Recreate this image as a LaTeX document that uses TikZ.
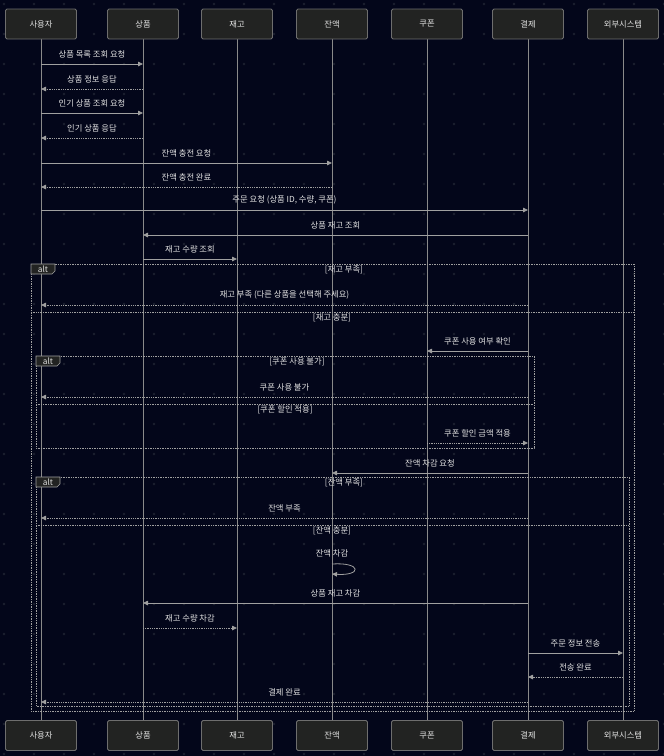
\documentclass[tikz,border=0pt]{standalone}
\usepackage{fontspec}
\setmainfont{Noto Sans CJK KR}
\usetikzlibrary{calc}
\usetikzlibrary{positioning}
\usetikzlibrary{arrows.meta}

\definecolor{bgcol}{HTML}{03061A}
\definecolor{dotcol}{HTML}{1C2030}
\definecolor{boxfill}{HTML}{222322}
\definecolor{boxline}{HTML}{6E6E6E}
\definecolor{txtcol}{HTML}{E2E2E2}
\definecolor{linecol}{HTML}{A0A0A0}
\definecolor{lifecol}{HTML}{8A8A8A}

\begin{document}
\begin{tikzpicture}[x=1pt, y=-1pt, font=\fontsize{8.3}{10}\selectfont, text=txtcol]
    \tikzstyle{actor}=[draw=boxline, fill=boxfill, rounded corners=1.5pt, line width=0.8pt,
      minimum width=71pt, minimum height=30pt, inner sep=0pt]
    \tikzstyle{life}=[draw=lifecol, line width=0.9pt]
    \tikzstyle{msg}=[draw=linecol, line width=0.8pt, -{Triangle[length=5pt, width=4.5pt]}]
    \tikzstyle{reply}=[msg, densely dotted]
    \tikzstyle{lbl}=[above=4.5pt, inner sep=1pt]
    \tikzstyle{frame}=[draw=linecol, line width=0.7pt, densely dotted]
    \tikzstyle{cond}=[inner sep=1pt]
    \tikzstyle{tag}=[draw=linecol, fill=boxfill, line width=0.6pt]

    % Background with dot grid
    \fill[bgcol] (0,0) rectangle (664,756);
    \useasboundingbox (0,0) rectangle (664,756);
    \foreach \i in {0,...,22} {
      \foreach \j in {0,...,25} {
        \fill[dotcol] (4+30*\i, 4+30*\j) circle (1.4pt);
      }
    }

    % Lifelines (drawn first, boxes on top)
    \foreach \x in {41, 143, 237, 332, 427, 528, 623} {
      \draw[life] (\x,39) -- (\x,720);
    }

    % Participants, top
    \node[actor] (user) at (41,24) {사용자};
    \node[actor] (prod) at (143,24) {상품};
    \node[actor] (stock) at (237,24) {재고};
    \node[actor] (bal) at (332,24) {잔액};
    \node[actor] (coup) at (427,24) {쿠폰};
    \node[actor] (pay) at (528,24) {결제};
    \node[actor] (ext) at (623,24) {외부시스템};

    % Participants, bottom
    \node[actor] (user2) at (41,735.5) {사용자};
    \node[actor] (prod2) at (143,735.5) {상품};
    \node[actor] (stock2) at (237,735.5) {재고};
    \node[actor] (bal2) at (332,735.5) {잔액};
    \node[actor] (coup2) at (427,735.5) {쿠폰};
    \node[actor] (pay2) at (528,735.5) {결제};
    \node[actor] (ext2) at (623,735.5) {외부시스템};

    % Browsing and charging
    \draw[msg] (user |- 0,64) -- node[lbl] {상품 목록 조회 요청} (prod |- 0,64);
    \draw[reply] (prod |- 0,89) -- node[lbl] {상품 정보 응답} (user |- 0,89);
    \draw[msg] (user |- 0,113) -- node[lbl] {인기 상품 조회 요청} (prod |- 0,113);
    \draw[reply] (prod |- 0,138) -- node[lbl] {인기 상품 응답} (user |- 0,138);
    \draw[msg] (user |- 0,163) -- node[lbl] {잔액 충전 요청} (bal |- 0,163);
    \draw[reply] (bal |- 0,187) -- node[lbl] {잔액 충전 완료} (user |- 0,187);

    % Order
    \draw[msg] (user |- 0,210) -- node[lbl] {주문 요청 (상품 ID, 수량, 쿠폰)} (pay |- 0,210);
    \draw[msg] (pay |- 0,235) -- node[lbl] {상품 재고 조회} (prod |- 0,235);
    \draw[msg] (prod |- 0,259) -- node[lbl] {재고 수량 조회} (stock |- 0,259);

    % alt: stock
    \draw[frame] (31,264) rectangle (634,711);
    \draw[tag] (31,264) -- (55,264) -- (55,271) -- (52,274) -- (31,274) -- cycle;
    \node[cond] (alt1) at (43,269) {alt};
    \node[cond] (c1a) at (344,270) {[재고 부족]};
    \draw[reply] (pay |- 0,305) -- node[lbl] {재고 부족 (다른 상품을 선택해 주세요)} (user |- 0,305);
    \draw[frame] (31,312) -- (634,312);
    \node[cond] (c1b) at (332,318) {[재고 충분]};
    \draw[msg] (pay |- 0,351) -- node[lbl] {쿠폰 사용 여부 확인} (coup |- 0,351);

    % alt: coupon
    \draw[frame] (36,356) rectangle (534,448);
    \draw[tag] (36,356) -- (60,356) -- (60,363) -- (57,366) -- (36,366) -- cycle;
    \node[cond] (alt2) at (48,361) {alt};
    \node[cond] (c2a) at (297,362) {[쿠폰 사용 불가]};
    \draw[reply] (pay |- 0,397) -- node[lbl] {쿠폰 사용 불가} (user |- 0,397);
    \draw[frame] (36,404) -- (534,404);
    \node[cond] (c2b) at (285,410) {[쿠폰 할인 적용]};
    \draw[reply] (coup |- 0,443) -- node[lbl] {쿠폰 할인 금액 적용} (pay |- 0,443);

    \draw[msg] (pay |- 0,473) -- node[lbl] {잔액 차감 요청} (bal |- 0,473);

    % alt: balance
    \draw[frame] (36,477) rectangle (629,706);
    \draw[tag] (36,477) -- (60,477) -- (60,484) -- (57,487) -- (36,487) -- cycle;
    \node[cond] (alt3) at (48,482) {alt};
    \node[cond] (c3a) at (344,483) {[잔액 부족]};
    \draw[reply] (pay |- 0,518) -- node[lbl] {잔액 부족} (user |- 0,518);
    \draw[frame] (36,525) -- (629,525);
    \node[cond] (c3b) at (332,531) {[잔액 충분]};
    \node[cond] (self) at (332,553) {잔액 차감};
    \draw[msg] (bal |- 0,564) .. controls (362,562) and (362,576) .. (bal |- 0,574);
    \draw[msg] (pay |- 0,603) -- node[lbl] {상품 재고 차감} (prod |- 0,603);
    \draw[reply] (prod |- 0,628) -- node[lbl] {재고 수량 차감} (stock |- 0,628);
    \draw[msg] (pay |- 0,653) -- node[lbl] {주문 정보 전송} (ext |- 0,653);
    \draw[reply] (ext |- 0,677) -- node[lbl] {전송 완료} (pay |- 0,677);
    \draw[reply] (pay |- 0,702) -- node[lbl] {결제 완료} (user |- 0,702);
\end{tikzpicture}
\end{document}
